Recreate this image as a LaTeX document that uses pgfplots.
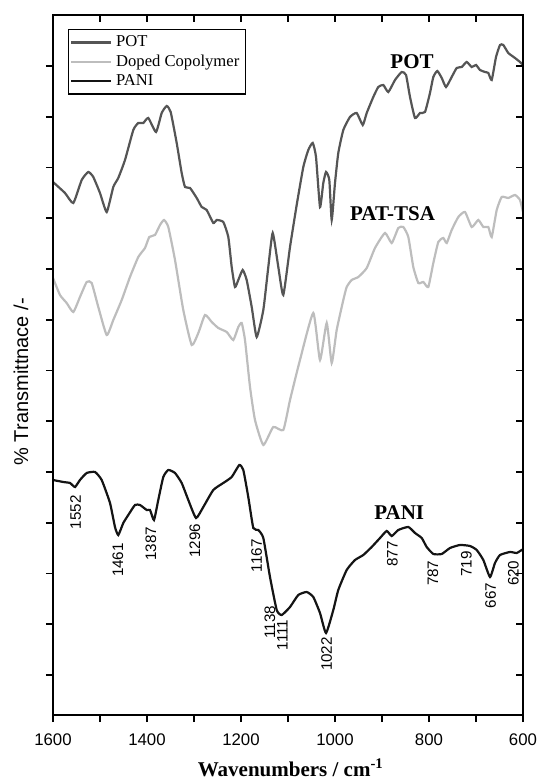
\documentclass[border=0pt]{standalone}
\usepackage{fontspec}
\setmainfont{Liberation Serif}
\setsansfont{Liberation Sans}
\usepackage{pgfplots}
\pgfplotsset{compat=1.18}

\definecolor{potgray}{HTML}{555555}
\definecolor{copgray}{HTML}{BDBDBD}
\definecolor{panik}{HTML}{141414}

\pgfplotsset{
  spec/.style={
    scale only axis, width=235pt, height=350pt,
    xmin=600, xmax=1600, x dir=reverse,
    ymin=0, ymax=700,
    axis line style={line width=0.9pt},
    tick style={line width=0.9pt, black},
    major tick length=3.5pt, minor tick length=3.5pt,
    xtick={600,800,...,1600},
    minor xtick={700,900,...,1500},
    ytick={40,90.75,141.5,192.25,243,293.75,344.5,395.25,446,496.75,547.5,598.25,649},
    yticklabels={},
  },
}

\begin{document}
\begin{tikzpicture}
\begin{axis}[spec, name=main,
  tick align=outside, xtick pos=left, ytick pos=left,
  /pgf/number format/assume math mode=true,
  /pgf/number format/1000 sep={},
  xticklabel style={font=\sffamily\fontsize{8.4}{10}\selectfont, yshift=-2.5pt},
  xlabel={\textbf{Wavenumbers / cm\textsuperscript{-1}}},
  xlabel style={font=\fontsize{10.5}{12}\selectfont, at={(axis description cs:0.506,-0.0757)}, anchor=center},
  ylabel={\% Transmittnace /-},
  ylabel style={font=\sffamily\fontsize{10}{12}\selectfont, at={(axis description cs:-0.068,0.476)}, anchor=center},
  legend style={at={(rel axis cs:0.031,0.98)}, anchor=north west, draw=black, line width=0.6pt,
    font=\fontsize{8.3}{9}\selectfont, inner sep=1pt, row sep=-1.5pt},
  legend cell align=left,
  legend image code/.code={\draw[#1] plot coordinates {(0cm,0cm) (0.35cm,0cm) (0.7cm,0cm)};},
]
\addplot[potgray, line width=1.1pt, smooth, tension=0.3] coordinates {
(1600,533)(1574.5,522)(1556.8,512)(1538.9,535)(1524.9,543)(1514.3,538)(1500,522)(1485.7,503)(1471.7,528)(1461.1,537)(1446.8,555)(1429.1,585)(1418.5,592)(1407.9,592)(1397.2,597)(1380.8,583)(1368.7,602)(1358.1,609)(1349.6,603)(1336.8,572)(1326.2,542)(1319.1,528)(1308.5,527)(1294.2,517)(1283.6,508)(1273,505)(1258.9,492)(1251.7,495)(1237.7,493)(1227,478)(1219.8,448)(1212.8,428)(1205.7,435)(1196.4,445)(1187.9,435)(1177.2,408)(1166.6,378)(1152.5,405)(1141.9,448)(1132.5,482)(1120.6,448)(1110,420)(1095.7,468)(1081.5,510)(1067.4,548)(1056.8,565)(1047.4,572)(1040.4,558)(1031.9,508)(1024.9,532)(1019.1,543)(1012.1,535)(1007,495)(1000,532)(993,562)(982.3,585)(968.1,598)(953.8,602)(941,590)(932.5,602)(918.5,618)(907.9,628)(897.2,630)(886.6,623)(872.3,635)(858.1,643)(848.9,640)(840.4,618)(829.8,597)(819.1,602)(808.5,603)(797.9,622)(790.8,638)(782.3,644)(772.9,637)(763.8,628)(751.7,638)(741,647)(730.4,648)(719.8,653)(709.1,648)(700,650)(691.5,645)(680.8,643)(673.8,642)(666.6,635)(657.4,658)(648.9,670)(641.9,670)(631.3,662)(617,657)(606.4,653)(600,650)
};
\addplot[copgray, line width=1.1pt, smooth, tension=0.3] coordinates {
(1600,437)(1585.1,420)(1570.9,412)(1556.8,403)(1542.6,418)(1528.3,433)(1517.7,432)(1503.6,408)(1485.7,380)(1471.7,395)(1453.8,415)(1436.2,438)(1418.5,458)(1404.3,467)(1395.1,478)(1383,480)(1372.3,490)(1363.8,495)(1354.7,488)(1340.4,455)(1322.8,405)(1304.9,370)(1290.8,382)(1276.6,400)(1262.3,393)(1248.3,387)(1230.4,383)(1216.4,375)(1205.7,388)(1198.5,392)(1191.5,375)(1180.8,328)(1170.2,295)(1152.5,270)(1131.3,288)(1110,285)(1095.7,315)(1074.5,355)(1046.2,402)(1031.9,355)(1017.6,392)(1007,352)(996.4,385)(982.3,415)(975.1,428)(964.5,435)(950.4,438)(932.5,447)(914.9,467)(893.6,482)(879.3,472)(865.3,487)(854.7,488)(844,478)(833.4,448)(822.7,432)(812.1,433)(801.5,428)(790.8,452)(780.2,473)(769.6,477)(762.3,472)(751.7,485)(737.6,498)(723.4,503)(709.1,488)(695.1,495)(684.4,488)(673.8,488)(666.6,478)(655.9,505)(645.3,518)(631.3,517)(617,520)(606.4,515)(600,503)
};
\addplot[panik, line width=1.1pt, smooth, tension=0.3] coordinates {
(1600,235)(1578.1,233)(1563.8,232)(1553.2,228)(1542.6,235)(1528.3,242)(1510.6,243)(1496.4,235)(1478.7,212)(1468.1,188)(1461.1,180)(1450.4,192)(1439.8,200)(1425.5,210)(1414.9,210)(1400.6,205)(1393.6,205)(1385.1,195)(1376,215)(1365.3,238)(1354.7,245)(1340.4,242)(1326.2,232)(1312.1,215)(1295.7,197)(1280.2,208)(1258.9,225)(1237.7,232)(1219.8,238)(1203.6,250)(1195.1,245)(1184.5,218)(1173.8,187)(1163.2,185)(1152.5,177)(1138.3,138)(1124,105)(1113.4,100)(1095.7,108)(1078.1,120)(1060.2,123)(1046.2,118)(1031.9,102)(1019.1,82)(1003.6,105)(993,125)(975.1,145)(957.4,155)(939.8,160)(921.9,168)(904.2,177)(890,184)(879.3,179)(865.3,185)(844,188)(829.8,182)(815.5,177)(804.9,168)(790.8,161)(772.9,161)(755.3,167)(734,170)(712.8,169)(698.5,165)(684.4,155)(670.2,138)(659.6,152)(648.9,160)(627.6,163)(613.4,162)(602.7,165)(600,164)
};
\legend{POT, Doped Copolymer, PANI}

% series names
\node[font=\bfseries\fontsize{10.5}{12}\selectfont] at (axis cs:836,653.5) {POT};
\node[font=\bfseries\fontsize{10.5}{12}\selectfont] at (axis cs:877.6,501) {PAT-TSA};
\node[font=\bfseries\fontsize{10.5}{12}\selectfont] at (axis cs:863.4,202.5) {PANI};

% peak positions
\begin{scope}[every node/.style={rotate=90, font=\sffamily\fontsize{7.6}{9}\selectfont, inner sep=0pt}]
\node at (axis cs:1551.7,202.7) {1552};
\node at (axis cs:1462.1,155) {1461};
\node at (axis cs:1391.5,171.3) {1387};
\node at (axis cs:1297.9,174.3) {1296};
\node at (axis cs:1166.6,159.3) {1167};
\node at (axis cs:1138.3,93) {1138};
\node at (axis cs:1112.1,80) {1111};
\node at (axis cs:1017.6,61) {1022};
\node at (axis cs:878.1,161) {877};
\node at (axis cs:791.5,141.7) {787};
\node at (axis cs:720.6,151) {719};
\node at (axis cs:668.7,119.3) {667};
\node at (axis cs:620.6,141.7) {620};
\end{scope}
\end{axis}

\begin{axis}[spec, tick align=inside, xtick pos=right, ytick pos=right, xticklabels={}]
\end{axis}

\pgfresetboundingbox
\path[use as bounding box] ([shift={(-26.5pt,-32pt)}]main.south west) rectangle ([shift={(8pt,7.5pt)}]main.north east);
\end{tikzpicture}
\end{document}
